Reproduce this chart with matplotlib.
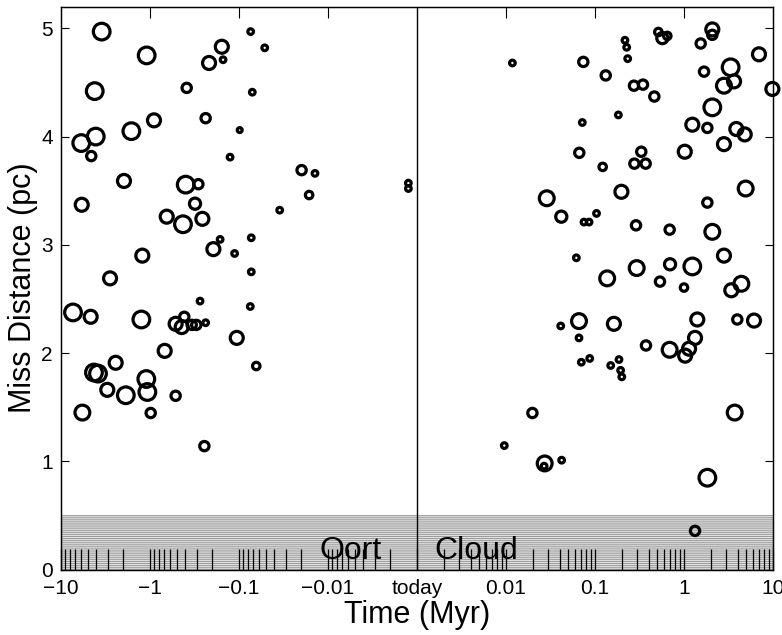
import numpy as np
import matplotlib
matplotlib.use("Agg")
import matplotlib.pyplot as plt
from matplotlib.ticker import NullLocator, FixedLocator

plt.rcParams['font.family'] = ['Liberation Sans', 'DejaVu Sans']
plt.rcParams['hatch.linewidth'] = 0.7

# ---- data: time of closest approach (Myr), miss distance (pc), size class ----
past_time = [-3.49, -1.09, -0.074, -0.156, -0.0514, -0.217, -0.151, -4.18, -0.387, -0.0709,
             -0.902, -0.237, -1.62, -0.0982, -4.07, -5.92, -4.57, -0.126, -1.96, -0.0198,
             -0.014, -0.397, -0.286, -0.00125, -0.00125, -0.0163, -5.85, -0.312, -0.0349, -0.649,
             -0.258, -0.426, -0.163, -0.0728, -0.194, -0.112, -1.22, -2.81, -0.0728, -7.33,
             -4.64, -1.25, -0.274, -0.0747, -0.515, -0.412, -0.44, -0.34, -0.302, -0.237,
             -0.106, -0.684, -2.43, -4.26, -3.84, -0.064, -1.10, -1.07, -3.02, -1.87,
             -0.515, -5.75, -0.982, -0.245]
past_dist = [4.97, 4.75, 4.97, 4.83, 4.82, 4.68, 4.71, 4.42, 4.45, 4.41,
             4.15, 4.17, 4.05, 4.06, 4.00, 3.94, 3.82, 3.81, 3.59, 3.69,
             3.66, 3.556, 3.56, 3.57, 3.52, 3.46, 3.37, 3.38, 3.32, 3.26,
             3.24, 3.19, 3.05, 3.065, 2.96, 2.92, 2.90, 2.69, 2.75, 2.375,
             2.335, 2.31, 2.48, 2.43, 2.27, 2.335, 2.24, 2.26, 2.26, 2.28,
             2.14, 2.02, 1.91, 1.82, 1.81, 1.88, 1.76, 1.64, 1.66, 1.61,
             1.605, 1.45, 1.446, 1.14]
past_size = [4, 4, 1, 3, 1, 3, 1, 4, 2, 1,
             3, 2, 4, 0.8, 4, 4, 2, 1, 3, 2,
             1, 4, 2, 1, 1, 1.5, 3, 2.5, 1, 3,
             3, 4, 1, 1, 3, 1, 3, 3, 1, 4,
             3, 4, 1, 1, 3, 2, 3, 2, 2, 1,
             3, 3, 3, 4, 4, 1.5, 4, 4, 3, 4,
             2, 3.5, 2, 2]

future_time = [0.0118, 0.0739, 0.217, 0.227, 0.233, 0.132, 0.515, 0.571, 0.649, 2.08,
               2.08, 1.54, 6.96, 3.34, 1.68, 2.81, 3.65, 0.274, 0.346, 0.464,
               9.84, 2.08, 0.072, 0.183, 1.24, 1.83, 3.87, 4.81, 2.81, 1.02,
               0.0666, 0.331, 0.277, 0.371, 0.122, 4.93, 0.198, 0.0287, 1.83, 0.0418,
               0.104, 0.0752, 0.0857, 0.289, 0.69, 2.08, 2.81, 0.0617, 0.137, 0.294,
               0.697, 1.24, 0.537, 1.0, 4.41, 3.40, 0.0661, 0.0412, 0.0661, 0.163,
               1.41, 3.97, 6.12, 1.33, 1.14, 1.03, 0.69, 0.374, 0.0872, 0.0702,
               0.186, 0.15, 0.194, 0.2, 3.71, 0.0198, 0.00957, 0.0272, 0.0268, 0.0422,
               1.83, 1.33]
future_dist = [4.68, 4.69, 4.89, 4.825, 4.72, 4.565, 4.966, 4.91, 4.93, 4.99,
               4.94, 4.86, 4.76, 4.64, 4.60, 4.47, 4.51, 4.47, 4.48, 4.37,
               4.44, 4.27, 4.13, 4.20, 4.11, 4.08, 4.07, 4.02, 3.93, 3.86,
               3.85, 3.86, 3.75, 3.75, 3.72, 3.52, 3.49, 3.43, 3.39, 3.26,
               3.29, 3.21, 3.21, 3.18, 3.14, 3.12, 2.90, 2.88, 2.69, 2.785,
               2.82, 2.80, 2.66, 2.605, 2.64, 2.58, 2.295, 2.25, 2.14, 2.27,
               2.31, 2.31, 2.30, 2.14, 2.04, 1.976, 2.03, 2.07, 1.95, 1.915,
               1.94, 1.885, 1.84, 1.78, 1.45, 1.446, 1.145, 0.98, 0.955, 1.01,
               0.848, 0.357]
future_size = [1, 2, 1, 1, 1, 2, 1.5, 2.5, 1.5, 3,
               2, 2, 3, 4, 2, 3.5, 3, 2, 2, 2,
               3, 4, 1, 1, 3, 2, 3, 3, 3, 3,
               2, 2, 2, 2, 1.5, 3.5, 3, 3.5, 2, 2.5,
               1, 1, 1, 2, 2, 3.5, 3, 1, 3.5, 3.5,
               2.5, 4, 2, 1.5, 3.5, 3, 3.5, 1, 1, 3,
               3, 2, 3, 3, 3, 3, 3.5, 2, 1, 1,
               1, 1, 1, 1, 3.5, 2, 1, 3.5, 1, 1,
               4, 2]

major_ticks = [-10, -1, -0.1, -0.01, 0, 0.01, 0.1, 1, 10]
major_labels = ['\u221210', '\u22121', '\u22120.1', '\u22120.01', 'today',
                '0.01', '0.1', '1', '10']
top_ticks = [-1, -0.1, -0.01, 0.01, 0.1, 1]
y_ticks = [0, 1, 2, 3, 4, 5]


def fwd(t):
    t = np.asarray(t, dtype=float)
    a = np.maximum(np.abs(t), 1e-3)
    return np.sign(t) * (np.log10(a) + 3.0)


def inv(u):
    u = np.asarray(u, dtype=float)
    return np.sign(u) * 10.0 ** (np.abs(u) - 3.0)


fig = plt.figure(figsize=(7.82, 6.35), dpi=100)
ax = fig.add_axes([61 / 782, 1 - 569.5 / 635, (773 - 61) / 782, (569.5 - 6.7) / 635])
ax.set_xscale('function', functions=(fwd, inv))
ax.set_xlim(-10, 10)
ax.set_ylim(0, 5.2)

# shaded Oort cloud band
ax.axhspan(0, 0.5, facecolor='#e2e2e2', edgecolor='#999999', hatch='--------',
           linewidth=0, zorder=0)
ax.axvline(0, color='black', lw=1.0, zorder=1)

times = np.array(past_time + future_time)
dists = np.array(past_dist + future_dist)
sizes = np.array(past_size + future_size)
ms = 1.4 + 2.65 * sizes
ax.scatter(times, dists, s=ms ** 2, facecolors='none', edgecolors='black',
           linewidths=2.3, zorder=3, clip_on=False)

# ticks
minor = []
for sgn in (-1, 1):
    for n in range(-3, 1):
        for k in range(2, 10):
            minor.append(sgn * k * 10.0 ** n)
ax.xaxis.set_major_locator(FixedLocator(major_ticks))
ax.set_xticklabels(major_labels)
ax.xaxis.set_minor_locator(FixedLocator(minor))
ax.tick_params(axis='x', which='both', direction='in', length=15, width=0.9,
               top=False, labelsize=15, pad=7)
ax.set_yticks(y_ticks)
ax.tick_params(axis='y', direction='in', length=6, width=0.8, right=True,
               labelsize=15, pad=6)
for sp in ax.spines.values():
    sp.set_linewidth(1.0)

axt = ax.twiny()
axt.set_xscale('function', functions=(fwd, inv))
axt.set_xlim(-10, 10)
axt.xaxis.set_major_locator(FixedLocator(top_ticks))
axt.xaxis.set_minor_locator(NullLocator())
axt.tick_params(axis='x', direction='in', length=8, width=0.8, labeltop=False)

ax.text(0.451, 0.019, 'Oort', transform=ax.transAxes, ha='right', va='baseline',
        fontsize=23, zorder=4)
ax.text(0.524, 0.019, 'Cloud', transform=ax.transAxes, ha='left', va='baseline',
        fontsize=23, zorder=4)

ax.set_xlabel('Time (Myr)', fontsize=22, labelpad=1)
ax.set_ylabel('Miss Distance (pc)', fontsize=22, labelpad=2)

fig.savefig('out.png', dpi=100)
